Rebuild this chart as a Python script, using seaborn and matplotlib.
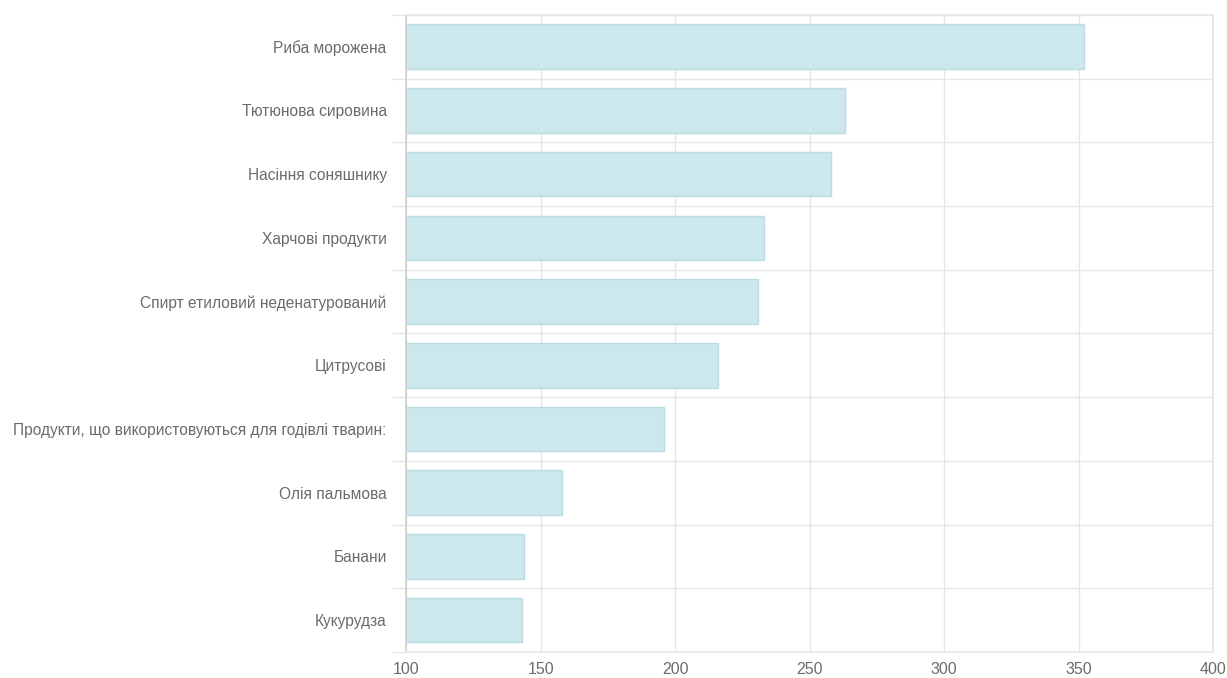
import matplotlib
matplotlib.use("Agg")
import matplotlib.pyplot as plt
import seaborn as sns
import pandas as pd
import numpy as np
from matplotlib.ticker import FixedLocator

# data
categories = [
    "Риба морожена",
    "Тютюнова сировина",
    "Насіння соняшнику",
    "Харчові продукти",
    "Спирт етиловий неденатурований",
    "Цитрусові",
    "Продукти, що використовуються для годівлі тварин:",
    "Олія пальмова",
    "Банани",
    "Кукурудза",
]
values = [352, 263, 258, 233, 231, 216, 196, 158, 144, 143]
x_ticks = [100, 150, 200, 250, 300, 350, 400]

df = pd.DataFrame({"category": categories, "value": values})

sns.set_theme(style="white")
plt.rcParams['font.family'] = ['Liberation Sans', 'DejaVu Sans']

grid_color = "#e6e6e6"
text_color = "#6b6b6b"

fig = plt.figure(figsize=(12.27, 6.78), dpi=100)
ax = fig.add_axes([0.331, 0.0383, 0.9886 - 0.331, 0.978 - 0.0383])

sns.barplot(data=df, x="value", y="category", orient="h", ax=ax,
            color="#cce8ec", saturation=1, width=0.7,
            edgecolor="#b8dde2", linewidth=1)

ax.set_xlim(100, 400)
ax.set_ylim(len(categories) - 0.5, -0.5)
ax.set_xticks(x_ticks)
ax.set_xticklabels([str(t) for t in x_ticks])
ax.set_xlabel("")
ax.set_ylabel("")

# gridlines between categories, like an offset category axis
ax.yaxis.set_minor_locator(FixedLocator(np.arange(-0.5, len(categories), 1.0)))
ax.grid(True, axis="x", color=grid_color, linewidth=1)
ax.grid(True, axis="y", which="minor", color=grid_color, linewidth=1)
ax.grid(False, axis="y", which="major")
ax.set_axisbelow(True)

ax.tick_params(axis="y", which="major", length=0, pad=14, labelsize=11.2, labelcolor=text_color)
ax.tick_params(axis="y", which="minor", length=10, color=grid_color, width=1, left=True)
ax.tick_params(axis="x", length=0, pad=7, labelsize=11.5, labelcolor=text_color)

for side in ["top", "right", "bottom"]:
    ax.spines[side].set_color(grid_color)
ax.spines["left"].set_color("#d0d0d0")

fig.savefig("out.png", dpi=100)
